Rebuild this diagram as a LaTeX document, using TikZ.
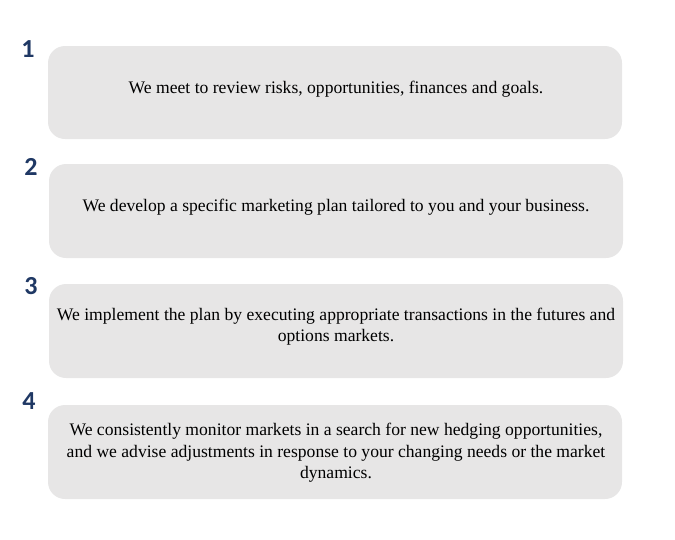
\documentclass[tikz,border=0pt]{standalone}
\usepackage{fontspec}
\setmainfont{Liberation Serif}
\newfontfamily\numfont{Carlito}
\definecolor{boxgray}{HTML}{E7E6E6}
\definecolor{numblue}{HTML}{1F3864}
\begin{document}
\begin{tikzpicture}[x=1pt,y=-1pt,
  stepbox/.style={fill=boxgray, draw=none, rounded corners=17pt},
  steptext/.style={align=center, font=\fontsize{17.6}{21.5}\selectfont, inner sep=0pt},
  stepnum/.style={font=\numfont\bfseries\fontsize{26}{26}\selectfont, text=numblue, inner sep=0pt}]
\useasboundingbox (0,0) rectangle (675,539);
\fill[stepbox] (48,46) rectangle (622,139);
\fill[stepbox] (49,164) rectangle (623,258);
\fill[stepbox] (49,284) rectangle (623,378);
\fill[stepbox] (48,405) rectangle (622,499);
\node[steptext] (t1) at (336,89) {We meet to review risks, opportunities, finances and goals.};
\node[steptext] (t2) at (336,207) {We develop a specific marketing plan tailored to you and your business.};
\node[steptext] (t3) at (336,326.5) {We implement the plan by executing appropriate transactions in the futures and\\ options markets.};
\node[steptext] (t4) at (336,453) {We consistently monitor markets in a search for new hedging opportunities,\\ and we advise adjustments in response to your changing needs or the market\\ dynamics.};
\node[stepnum] (n1) at (28,49) {1};
\node[stepnum] (n2) at (31,167) {2};
\node[stepnum] (n3) at (31,286) {3};
\node[stepnum] (n4) at (29,401) {4};
\end{tikzpicture}
\end{document}
